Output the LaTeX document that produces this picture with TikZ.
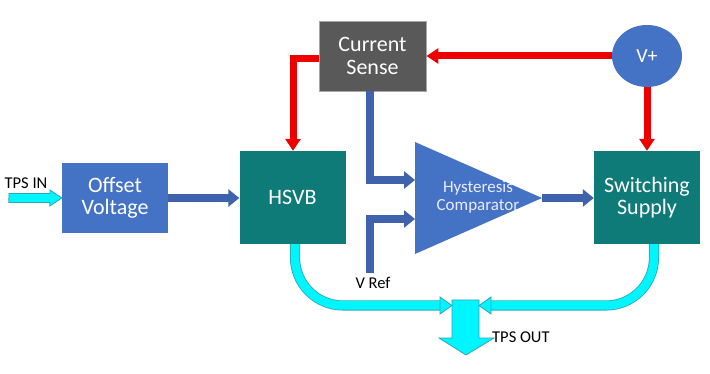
\documentclass[tikz,border=0pt]{standalone}
\usepackage{fontspec}
\setmainfont{Carlito}
\usetikzlibrary{arrows.meta,shapes.geometric,calc}
\definecolor{bluefill}{HTML}{4472C4}
\definecolor{tealfill}{HTML}{0F7B78}
\definecolor{grayfill}{HTML}{595959}
\definecolor{arrblue}{HTML}{3F62AD}
\definecolor{arrred}{HTML}{EE0000}
\definecolor{cyanfill}{HTML}{00F6FF}
\definecolor{cyanedge}{HTML}{2FA6B4}
\begin{document}
\begin{tikzpicture}[x=1pt,y=-1pt,
  box/.style={draw=none, text=white, align=center, inner sep=0pt,
    font=\fontsize{22}{22.5}\selectfont},
  redarrow/.style={draw=arrred, line width=7pt,
    -{Triangle[width=15pt,length=12pt]}},
  bluearrow/.style={draw=arrblue, line width=7.5pt,
    -{Triangle[width=17pt,length=11pt]}},
  cyanpipe/.style={draw=cyanedge, line width=0.8pt, double=cyanfill,
    double distance=8.5pt},
  cyanhead/.style={fill=cyanfill, draw=cyanedge, line width=0.8pt},
  lbl/.style={text=black, inner sep=0pt, font=\fontsize{16.5}{18}\selectfont}]
\useasboundingbox (0,0) rectangle (710,374);
\fill[white] (0,0) rectangle (710,374);

% blocks
\node[box, fill=bluefill, minimum width=106pt, minimum height=70pt] (ov) at (115,198) {Offset\\Voltage};
\node[box, fill=tealfill, minimum width=106pt, minimum height=93pt] (hsvb) at (292.5,197.5) {HSVB};
\node[box, fill=grayfill, draw=gray!70, line width=0.8pt, minimum width=107pt, minimum height=70pt] (cs) at (372.5,56) {Current\\Sense};
\node[box, fill=tealfill, minimum width=106pt, minimum height=93pt] (ss) at (647,197.5) {Switching\\Supply};
\node[box, ellipse, fill=bluefill, minimum width=70pt, minimum height=62pt, font=\fontsize{20}{22}\selectfont] (vp) at (647,56) {V+};

% comparator triangle
\coordinate (ttop) at (415,142);
\coordinate (tbot) at (415,254);
\coordinate (tout) at (542,198);
\fill[bluefill] (ttop) -- (tout) -- (tbot) -- cycle;
\node[text=white!92!blue, align=center, inner sep=0pt, font=\fontsize{17}{18}\selectfont] (hc) at (478,197) {Hysteresis\\Comparator};
\coordinate (in1) at (415,180);
\coordinate (in2) at (415,219);

% red arrows
\draw[redarrow] (vp.west) -- (cs.east |- vp.west);
\draw[redarrow] ($(cs.west)+(0,3)$) -| ($(hsvb.north)+(0.5,0)$);
\draw[redarrow] (vp.south) -- (ss.north);

% blue arrows
\draw[bluearrow] (ov.east) -- (hsvb.west |- ov.east);
\coordinate (csout) at ($(cs.south)+(-2.5,0)$);
\draw[bluearrow] (csout) |- (in1);
\coordinate (vref) at (370,273);
\draw[bluearrow] (vref) |- (in2);
\draw[bluearrow] (tout) -- (ss.west |- tout);

% labels
\node[lbl] (vreflbl) at (373,282.5) {V Ref};
\node[lbl] (tpsinlbl) at (26,183) {TPS IN};
\node[lbl, anchor=west] (tpsoutlbl) at (492,337) {TPS OUT};

% TPS IN arrow
\coordinate (tpsin) at (9,198);
\draw[cyanhead] (tpsin) ++(0,-4.5) -- ++(41,0) -- ++(0,-3.5) -- (ov.west |- tpsin) -- ++(-12,8) -- ++(0,-3.5) -- ++(-41,0) -- cycle;

% output merge
\coordinate (outtop) at (465.5,300);
\draw[cyanhead] (452,300) -- (479,300) -- (479,338) -- (494,338) -- (466,355) -- (439,338) -- (452,338) -- cycle;
\coordinate (lhead) at (440,305.5);
\coordinate (rhead) at (491,305.5);
\draw[cyanpipe, rounded corners=48pt] ($(hsvb.south)+(2.5,0)$) -- (295,305.5) -- (lhead);
\draw[cyanpipe, rounded corners=48pt] ($(ss.south)+(7,0)$) -- (654,305.5) -- (rhead);
\draw[cyanhead] (lhead) ++(0,-8.5) -- ++(12,8.5) -- ++(-12,8.5) -- cycle;
\draw[cyanhead] (rhead) ++(0,-8.5) -- ++(-12,8.5) -- ++(12,8.5) -- cycle;
\end{tikzpicture}
\end{document}
